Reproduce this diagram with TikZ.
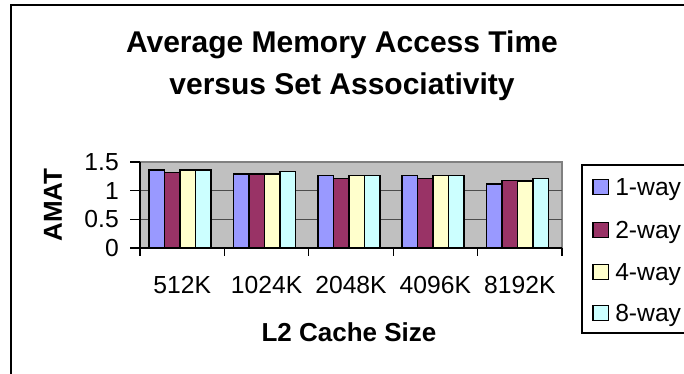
\documentclass[tikz,border=0pt]{standalone}
\usepackage{fontspec}
\setmainfont{Liberation Sans}
\definecolor{wayone}{RGB}{153,153,255}
\definecolor{waytwo}{RGB}{153,51,102}
\definecolor{wayfour}{RGB}{255,255,204}
\definecolor{wayeight}{RGB}{204,255,255}
\definecolor{plotgray}{RGB}{192,192,192}
\tikzset{
  bar/.style={draw=black,line width=1.1pt},
  ticklabel/.style={font=\fontsize{18.5}{22}\selectfont,inner sep=0pt},
  axistitle/.style={font=\fontsize{19.5}{23}\selectfont\bfseries,inner sep=0pt},
  titletext/.style={font=\fontsize{22.5}{27}\selectfont\bfseries,inner sep=0pt,anchor=base},
  legendkey/.style={draw=black,line width=1pt,minimum size=11.5pt,inner sep=0pt}
}
\begin{document}
\begin{tikzpicture}[x=0.75pt,y=0.75pt,yscale=-1,xscale=1]
\clip (0,0) rectangle (684,374);
%Shape: Rectangle [chart frame]
\draw [line width=1.2pt] (11,5) rectangle (700,390);
% Text Node
\node (title1) [titletext] at (342,53) {Average Memory Access Time};
% Text Node
\node (title2) [titletext] at (342,95) {versus Set Associativity};
%Shape: Rectangle [plot area]
\draw [fill=plotgray,draw=gray,line width=0.8pt] (140,162) rectangle (562,248);
% gridlines
\foreach \g in {0.5,1}
  \draw [black!70,line width=1pt] (140,{248-57.33*\g}) -- (562,{248-57.33*\g});
% bars, one group per cache size
\foreach \a/\b/\c/\d [count=\k from 0] in {1.36/1.32/1.36/1.36,1.29/1.29/1.29/1.33,1.26/1.21/1.26/1.26,1.26/1.21/1.26/1.26,1.12/1.18/1.17/1.21}{
  \draw [bar,fill=wayone] ({149+84.4*\k},248) rectangle ++(15.5,{-57.33*\a});
  \draw [bar,fill=waytwo] ({164.5+84.4*\k},248) rectangle ++(15.5,{-57.33*\b});
  \draw [bar,fill=wayfour] ({180+84.4*\k},248) rectangle ++(15.5,{-57.33*\c});
  \draw [bar,fill=wayeight] ({195.5+84.4*\k},248) rectangle ++(15.5,{-57.33*\d});
}
% axes
\draw [line width=1pt] (140,162) -- (140,248) -- (562,248);
\foreach \t [count=\j from 0] in {0,0.5,1,1.5}{
  \draw [line width=1pt] (130,{248-28.67*\j}) -- (140,{248-28.67*\j});
  \node (ytick\j) [ticklabel,anchor=east] at (119,{248-28.67*\j}) {\t};
}
\foreach \lab [count=\k from 0] in {512K,1024K,2048K,4096K,8192K}{
  \draw [line width=1pt] ({140+84.4*\k},248) -- ++(0,8);
  \node (cat\k) [ticklabel] at ({182.2+84.4*\k},285) {\lab};
}
\draw [line width=1pt] (562,248) -- ++(0,8);
% Text Node
\node (xtitle) [axistitle] at (349,332) {L2 Cache Size};
% Text Node
\node (ytitle) [axistitle,rotate=90] at (53,205) {AMAT};
%Shape: Rectangle [legend]
\draw [line width=0.8pt] (582,165) rectangle (700,333);
\foreach \col/\lab/\y [count=\i] in {wayone/1-way/187,waytwo/2-way/230,wayfour/4-way/272,wayeight/8-way/313}{
  \node (key\i) [legendkey,fill=\col] at (600.5,\y) {};
  \node (entry\i) [ticklabel,anchor=base west] at (615,\y+8.5) {\lab};
}
\end{tikzpicture}
\end{document}
